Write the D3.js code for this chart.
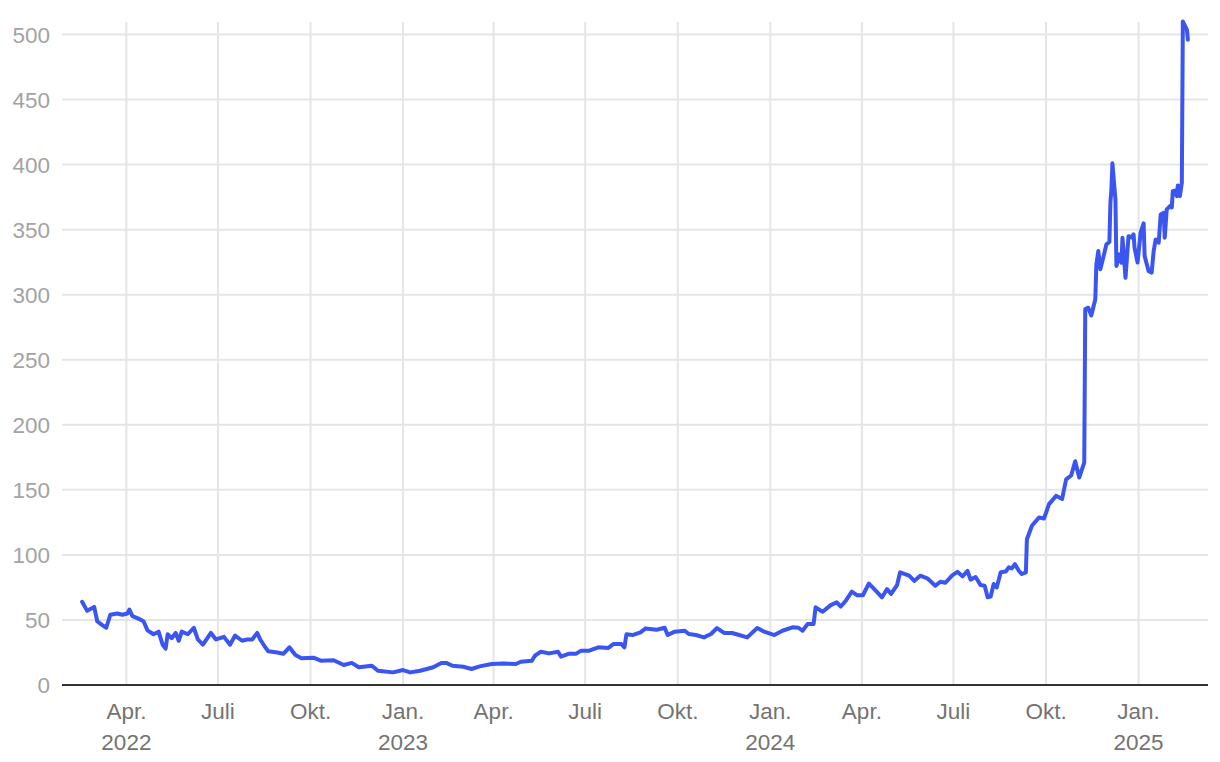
<!DOCTYPE html>
<html>
<head>
<meta charset="utf-8">
<script src="https://cdn.jsdelivr.net/npm/d3@7"></script>
<style>
  html, body { margin: 0; padding: 0; background: #fff; }
  svg { display: block; font-family: "Liberation Sans", Arial, Helvetica, sans-serif; }
</style>
</head>
<body>
<svg width="1220" height="762"></svg>
<script>
'use strict';

const dates = [
  '2022-02-16', '2022-02-21', '2022-02-28', '2022-03-03', '2022-03-08', '2022-03-12', '2022-03-16', '2022-03-23',
  '2022-03-28', '2022-04-02', '2022-04-04', '2022-04-07', '2022-04-13', '2022-04-18', '2022-04-22', '2022-04-28',
  '2022-05-03', '2022-05-07', '2022-05-10', '2022-05-12', '2022-05-16', '2022-05-20', '2022-05-23', '2022-05-26',
  '2022-06-01', '2022-06-07', '2022-06-11', '2022-06-16', '2022-06-24', '2022-06-29', '2022-07-07', '2022-07-13',
  '2022-07-18', '2022-07-25', '2022-07-30', '2022-08-04', '2022-08-09', '2022-08-12', '2022-08-17', '2022-08-20',
  '2022-08-29', '2022-09-04', '2022-09-10', '2022-09-16', '2022-09-22', '2022-10-04', '2022-10-11', '2022-10-24',
  '2022-11-03', '2022-11-11', '2022-11-18', '2022-12-01', '2022-12-07', '2022-12-22', '2023-01-01', '2023-01-08',
  '2023-01-18', '2023-01-31', '2023-02-08', '2023-02-13', '2023-02-19', '2023-03-02', '2023-03-10', '2023-03-18',
  '2023-03-30', '2023-04-10', '2023-04-23', '2023-04-28', '2023-05-09', '2023-05-12', '2023-05-18', '2023-05-26',
  '2023-06-04', '2023-06-07', '2023-06-15', '2023-06-22', '2023-06-27', '2023-07-05', '2023-07-14', '2023-07-24',
  '2023-07-29', '2023-08-06', '2023-08-09', '2023-08-11', '2023-08-17', '2023-08-25', '2023-08-30', '2023-09-10',
  '2023-09-18', '2023-09-21', '2023-09-28', '2023-10-08', '2023-10-12', '2023-10-19', '2023-10-27', '2023-11-03',
  '2023-11-09', '2023-11-16', '2023-11-24', '2023-12-01', '2023-12-09', '2023-12-19', '2023-12-26', '2024-01-05',
  '2024-01-13', '2024-01-23', '2024-01-29', '2024-02-02', '2024-02-07', '2024-02-13', '2024-02-15', '2024-02-22',
  '2024-03-01', '2024-03-07', '2024-03-11', '2024-03-16', '2024-03-22', '2024-03-27', '2024-04-02', '2024-04-08',
  '2024-04-15', '2024-04-21', '2024-04-26', '2024-04-30', '2024-05-06', '2024-05-09', '2024-05-18', '2024-05-23',
  '2024-05-29', '2024-06-05', '2024-06-13', '2024-06-18', '2024-06-23', '2024-06-30', '2024-07-05', '2024-07-10',
  '2024-07-15', '2024-07-18', '2024-07-23', '2024-07-28', '2024-08-01', '2024-08-04', '2024-08-07', '2024-08-10',
  '2024-08-13', '2024-08-17', '2024-08-22', '2024-08-25', '2024-08-28', '2024-08-31', '2024-09-04', '2024-09-07',
  '2024-09-11', '2024-09-12', '2024-09-17', '2024-09-24', '2024-09-29', '2024-10-04', '2024-10-11', '2024-10-17',
  '2024-10-21', '2024-10-26', '2024-10-30', '2024-11-03', '2024-11-08', '2024-11-09', '2024-11-12', '2024-11-15',
  '2024-11-19', '2024-11-20', '2024-11-22', '2024-11-24', '2024-11-28', '2024-11-30', '2024-12-03', '2024-12-04',
  '2024-12-05', '2024-12-06', '2024-12-09', '2024-12-10', '2024-12-13', '2024-12-15', '2024-12-16', '2024-12-19',
  '2024-12-22', '2024-12-25', '2024-12-27', '2024-12-28', '2024-12-31', '2025-01-03', '2025-01-06', '2025-01-07',
  '2025-01-11', '2025-01-14', '2025-01-16', '2025-01-18', '2025-01-21', '2025-01-23', '2025-01-26', '2025-01-27',
  '2025-01-29', '2025-02-02', '2025-02-03', '2025-02-04', '2025-02-06', '2025-02-08', '2025-02-09', '2025-02-11',
  '2025-02-13', '2025-02-14', '2025-02-18', '2025-02-19'
];

const values = [
  64, 57, 60, 49, 46, 44, 54, 55,
  54, 55, 58, 53, 51, 49, 42, 39,
  41, 31, 28, 39, 36, 40, 34, 41,
  39, 44, 35, 31, 40, 35, 37, 31,
  38, 34, 35, 35, 40, 35, 29, 26,
  25, 24, 29, 23, 20.5, 21, 18.7, 19,
  15.4, 17, 13.6, 14.8, 11, 9.7, 11.5, 9.7,
  11, 13.6, 16.9, 17, 14.8, 14, 12.3, 14.3,
  16.1, 16.6, 16.1, 17.9, 18.7, 22.5, 25.6, 24.3,
  25.6, 21.8, 24.1, 24.1, 26.4, 26.4, 29, 28.5,
  31.5, 31.5, 29, 39, 38.4, 40.5, 43.5, 42.5,
  44, 38.4, 41, 41.7, 39.2, 38.4, 36.6, 39.2,
  43.8, 40, 40, 38.4, 36.6, 43.8, 41, 38.4,
  41.7, 44.3, 44, 41.7, 46.8, 46.8, 59.7, 56.3,
  61.4, 63.5, 60.3, 64.8, 71.7, 69, 69, 78,
  72.4, 67.4, 73.7, 70, 76.8, 86.6, 84, 80,
  84, 82, 76.3, 79.4, 78.6, 84.5, 87, 83.5,
  87.8, 81, 83, 76.8, 76.3, 67.4, 68, 77.6,
  75, 86.6, 87.2, 90.4, 89.6, 92.9, 87.8, 85.3,
  86.6, 112, 122.4, 128.8, 128, 139, 145.4, 143,
  158, 161, 172, 159.5, 171, 289, 290, 284,
  296.5, 323, 333.6, 319.5, 332, 338.7, 340.5, 370.7,
  381, 401, 373, 322, 331, 324.6, 343.8, 313,
  345, 344, 346.4, 336, 324.7, 347.7, 354.8, 329.7,
  318, 317, 333.6, 342.5, 340, 361.7, 363, 343.8,
  365.6, 368.7, 367, 379.6, 380, 375.8, 384, 375.8,
  386, 510, 503.8, 496
];

const yTicks = [0, 50, 100, 150, 200, 250, 300, 350, 400, 450, 500];
const monthNames = { 0: 'Jan.', 3: 'Apr.', 6: 'Juli', 9: 'Okt.' };

const parse = d3.timeParse('%Y-%m-%d');
const data = dates.map((d, i) => ({ date: parse(d), value: values[i] }));

const svg = d3.select('svg');
const left = 62;
const right = 1208;

const x = d3.scaleTime()
  .domain([parse('2022-01-27'), parse('2025-03-11')])
  .range([left, right]);

const y = d3.scaleLinear()
  .domain([0, 500])
  .range([685, 34.5]);

const monthTicks = d3.timeMonth.every(3).range(parse('2022-04-01'), parse('2025-02-01'));

// grid
const grid = svg.append('g');
grid.selectAll('line.h')
  .data(yTicks.filter(d => d > 0))
  .enter().append('line')
    .attr('x1', left)
    .attr('x2', right)
    .attr('y1', d => y(d))
    .attr('y2', d => y(d))
    .attr('stroke', '#e5e5e5')
    .attr('stroke-width', 2);
grid.selectAll('line.v')
  .data(monthTicks)
  .enter().append('line')
    .attr('x1', d => x(d))
    .attr('x2', d => x(d))
    .attr('y1', 22)
    .attr('y2', y(0))
    .attr('stroke', '#e5e5e5')
    .attr('stroke-width', 2);

// y labels
svg.append('g')
  .selectAll('text')
  .data(yTicks)
  .enter().append('text')
    .attr('x', 50)
    .attr('y', d => y(d))
    .attr('dy', '0.36em')
    .attr('text-anchor', 'end')
    .attr('fill', '#a3a3a3')
    .attr('font-size', 22.5)
    .text(d => d);

// x labels
const xl = svg.append('g')
  .selectAll('text')
  .data(monthTicks)
  .enter().append('text')
    .attr('x', d => x(d))
    .attr('y', 719)
    .attr('text-anchor', 'middle')
    .attr('fill', '#737373')
    .attr('font-size', 22.5);
xl.append('tspan')
  .attr('x', d => x(d))
  .text(d => monthNames[d.getMonth()]);
xl.filter((d, i) => i === 0 || d.getMonth() === 0)
  .append('tspan')
    .attr('x', d => x(d))
    .attr('y', 750)
    .text(d => d.getFullYear());

// axis line
svg.append('line')
  .attr('x1', left)
  .attr('x2', right)
  .attr('y1', y(0))
  .attr('y2', y(0))
  .attr('stroke', '#333')
  .attr('stroke-width', 2);

// series
const line = d3.line()
  .x(d => x(d.date))
  .y(d => y(d.value));

svg.append('path')
  .datum(data)
  .attr('fill', 'none')
  .attr('stroke', '#3a55f0')
  .attr('stroke-width', 4)
  .attr('stroke-linejoin', 'round')
  .attr('stroke-linecap', 'round')
  .attr('d', line);
</script>
</body>
</html>
